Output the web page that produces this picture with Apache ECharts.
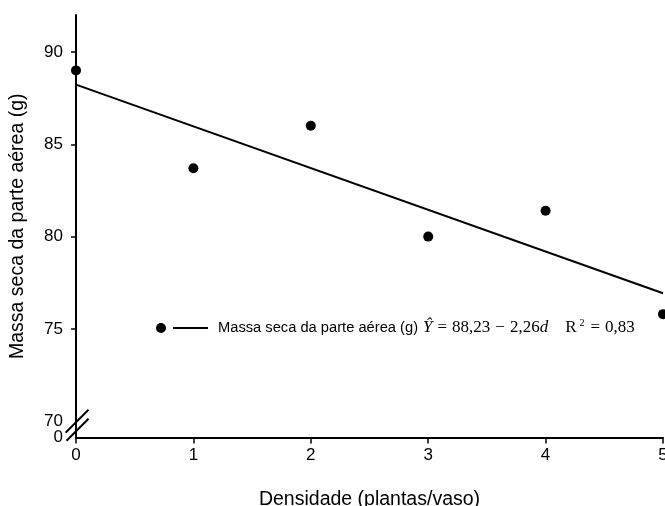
<!DOCTYPE html>
<html>
<head>
<meta charset="utf-8">
<script src="https://cdn.jsdelivr.net/npm/echarts@6/dist/echarts.min.js"></script>
<style>
html,body{margin:0;padding:0;background:#fff;}
#chart{width:665px;height:506px;}
</style>
</head>
<body>
<div id="chart"></div>
<script>
// Data
const densidade = [0, 1, 2, 3, 4, 5];
const massaSeca = [89.0, 83.7, 86.0, 80.0, 81.4, 75.8];
// Regression endpoints from Y = 88,23 - 2,26d
const fitX = [0, 5];
const fitY = [88.23, 76.93];
const xTicks = [0, 1, 2, 3, 4, 5];
const yTickValues = [75, 80, 85, 90];
const yLabelValues = [70, 75, 80, 85, 90];
const yBreakLabel = '0';
const yMin = 69.12;
const yMax = 92.0;

const SANS = "'Liberation Sans', Arial, sans-serif";
const SERIF = "'Liberation Serif', 'Times New Roman', serif";

const chart = echarts.init(document.getElementById('chart'));
const option = {
  animation: false,
  backgroundColor: '#fff',
  grid: { left: 76, right: 2, top: 15, bottom: 68.5, containLabel: false, outerBoundsMode: 'none' },
  xAxis: {
    type: 'value', min: 0, max: 5, interval: 1,
    name: 'Densidade (plantas/vaso)', nameLocation: 'middle', nameGap: 52,
    nameTextStyle: { fontFamily: SANS, fontSize: 19.5, color: '#000' },
    axisLine: { show: true, onZero: false, lineStyle: { color: '#000', width: 2 } },
    axisTick: { show: true, length: 6, lineStyle: { color: '#000', width: 1.5 } },
    axisLabel: { fontFamily: SANS, fontSize: 17, color: '#000', margin: 9,
      customValues: xTicks },
    splitLine: { show: false }
  },
  yAxis: [
    {
      type: 'value', min: yMin, max: yMax,
      name: 'Massa seca da parte aérea (g)', nameLocation: 'middle', nameGap: 48,
      nameTextStyle: { fontFamily: SANS, fontSize: 19.5, color: '#000' },
      axisLine: { show: true, onZero: false, lineStyle: { color: '#000', width: 2 } },
      axisTick: { show: true, length: 5, lineStyle: { color: '#000', width: 1.5 },
        customValues: yTickValues },
      axisLabel: { fontFamily: SANS, fontSize: 17, color: '#000', margin: 13,
        customValues: yLabelValues,
        formatter: function (v) { return String(Math.round(v)); } },
      splitLine: { show: false }
    },
    {
      type: 'value', min: yMin, max: yMax, position: 'left',
      axisLine: { show: false },
      axisTick: { show: false },
      axisLabel: { fontFamily: SANS, fontSize: 17, color: '#000', margin: 13,
        customValues: [yMin], showMinLabel: true,
        formatter: function () { return yBreakLabel; } },
      splitLine: { show: false }
    }
  ],
  legend: [
    {
      data: [{ name: 'pontos', icon: 'circle' }],
      left: 156, top: 323, itemWidth: 10, itemHeight: 10, padding: 0,
      formatter: function () { return ''; },
      selectedMode: false
    },
    {
      data: [{ name: 'Massa seca da parte aérea (g)', icon: 'path://M0,6L35,6L35,8L0,8Z' }],
      left: 173, top: 318, itemWidth: 35, itemHeight: 14, padding: 0,
      selectedMode: false,
      itemStyle: { color: '#000' },
      formatter: function (name) {
        return '{a|' + name + '}{y|Ŷ}{o|=}{e|88,23}{o|−}{e|2,26}{d|d}{r|R}{s|2}{o|=}{e|0,83}';
      },
      textStyle: {
        color: '#000',
        rich: {
          a: { fontFamily: SANS, fontSize: 14.7, color: '#000', padding: [0, 5, 0, 5], lineHeight: 20 },
          y: { fontFamily: SERIF, fontSize: 17, fontStyle: 'italic', color: '#000', lineHeight: 20 },
          o: { fontFamily: SERIF, fontSize: 17, color: '#000', lineHeight: 20, padding: [0, 5, 0, 5] },
          e: { fontFamily: SERIF, fontSize: 17, color: '#000', lineHeight: 20 },
          d: { fontFamily: SERIF, fontSize: 17, fontStyle: 'italic', color: '#000', lineHeight: 20 },
          r: { fontFamily: SERIF, fontSize: 17, color: '#000', lineHeight: 20, padding: [0, 0, 0, 17] },
          s: { fontFamily: SERIF, fontSize: 10, color: '#000', verticalAlign: 'top', lineHeight: 14, padding: [0, 1, 0, 3] }
        }
      }
    }
  ],
  series: [
    {
      name: 'pontos', type: 'scatter',
      data: densidade.map((d, i) => [d, massaSeca[i]]),
      symbol: 'circle', symbolSize: 10,
      itemStyle: { color: '#000', opacity: 1 },
      clip: false, z: 5
    },
    {
      name: 'Massa seca da parte aérea (g)', type: 'line',
      data: fitX.map((d, i) => [d, fitY[i]]),
      symbol: 'none', showSymbol: false,
      lineStyle: { color: '#000', width: 2 },
      itemStyle: { color: '#000' },
      z: 4
    }
  ]
};
chart.setOption(option);

// Axis break marks drawn relative to the axis scale
const p70 = chart.convertToPixel({ gridIndex: 0 }, [0, 70]);
const h = 11.5;
chart.setOption({
  graphic: [
    { type: 'line', z: 100, shape: { x1: p70[0] + 1 - h, y1: p70[1] + h, x2: p70[0] + 1 + h, y2: p70[1] - h },
      style: { stroke: '#000', lineWidth: 2 } },
    { type: 'line', z: 100, shape: { x1: p70[0] + 2 - h, y1: p70[1] + 9 + h - 1, x2: p70[0] + 2 + h - 1, y2: p70[1] + 9 - h },
      style: { stroke: '#000', lineWidth: 2 } }
  ]
});
</script>
</body>
</html>
